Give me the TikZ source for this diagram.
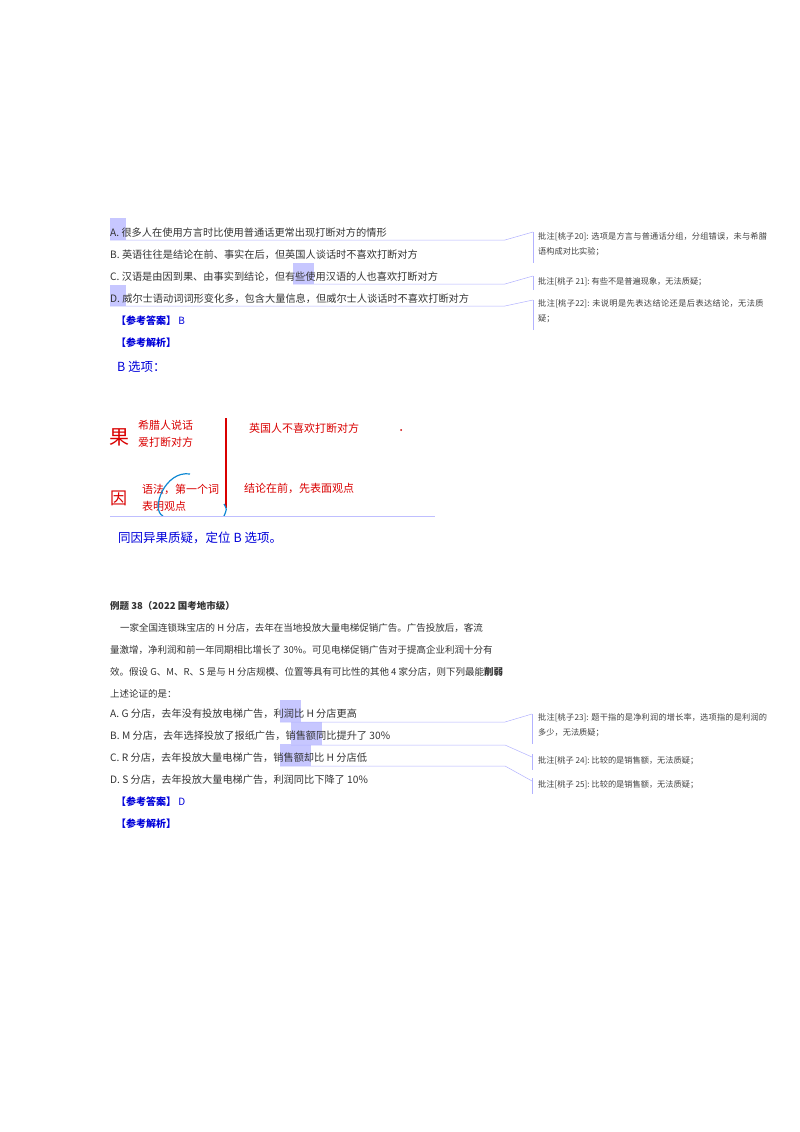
\documentclass[tikz,border=0pt]{standalone}
\usepackage{fontspec}
\setmainfont{Noto Sans CJK SC}
\XeTeXlinebreaklocale "zh"
\XeTeXlinebreakskip=0pt plus 1pt
\begin{document}
\begin{tikzpicture}[x=1pt,y=-1pt,
 t/.style={anchor=west,inner sep=0pt,font=\fontsize{9.5}{11}\selectfont,text=black!80},
 op/.style={anchor=west,inner sep=0pt,font=\fontsize{10.2}{11}\selectfont,text=black!80},
 bl/.style={anchor=west,inner sep=0pt,font=\fontsize{10}{12}\selectfont\bfseries,text=blue!85!black},
 big/.style={anchor=west,inner sep=0pt,font=\fontsize{12.5}{14}\selectfont,text=blue!85!black},
 cmt/.style={anchor=west,inner sep=0pt,font=\fontsize{8.2}{15}\selectfont,text=black!75},
 cmtw/.style={cmt,align=left,text width=232pt,anchor=north west},
 rd/.style={anchor=west,inner sep=0pt,font=\fontsize{11}{13}\selectfont,text=red!85!black},
 hl/.style={fill=blue!22,draw=none},
 ld/.style={draw=blue!30,line width=0.5pt}]
\useasboundingbox (0,0) rectangle (800,1132);
% highlights
\fill[hl] (110,218) rectangle (126,240);
\fill[hl] (293,263) rectangle (314,284);
\fill[hl] (110,285) rectangle (126,306);
\fill[hl] (280,700) rectangle (301,722);
\fill[hl] (291,722) rectangle (322,745);
\fill[hl] (280,744) rectangle (311,766);
% leaders
\draw[ld] (110,240) -- (505,240) -- (533,232);
\draw[ld] (293,284) -- (505,284) -- (533,276);
\draw[ld] (110,306) -- (505,306) -- (533,300);
\draw[ld] (280,722) -- (505,722) -- (532,714);
\draw[ld] (291,745) -- (505,745) -- (532,757);
\draw[ld] (280,766) -- (505,766) -- (532,781);
% comment bars
\draw[ld] (533,232) -- (533,263);
\draw[ld] (533,276) -- (533,290);
\draw[ld] (533,300) -- (533,330);
\draw[ld] (532,714) -- (532,744);
\draw[ld] (532,754) -- (532,770);
\draw[ld] (532,778) -- (532,794);
% options 1
\node[op] (a1) at (110,233) {A.\ 很多人在使用方言时比使用普通话更常出现打断对方的情形};
\node[op] (b1) at (110,255) {B.\ 英语往往是结论在前、事实在后，但英国人谈话时不喜欢打断对方};
\node[op] (c1) at (110,277) {C.\ 汉语是由因到果、由事实到结论，但有些使用汉语的人也喜欢打断对方};
\node[op] (d1) at (110,299) {D.\ 威尔士语动词词形变化多，包含大量信息，但威尔士人谈话时不喜欢打断对方};
\node[bl] (ans1) at (116,321) {【参考答案】\ \mdseries B};
\node[bl] (ex1) at (116,343) {【参考解析】};
\node[big] (bx) at (117,367) {B 选项：};
% comments 1
\node[cmtw] (c20) at (538,232) {批注[桃子20]:\ 选项是方言与普通话分组，分组错误，未与希腊语构成对比实验；};
\node[cmt] (c21) at (538,282) {批注[桃子 21]:\ 有些不是普遍现象，无法质疑；};
\node[cmtw] (c22) at (538,299) {批注[桃子22]:\ 未说明是先表达结论还是后表达结论，无法质疑；};
% handwritten image
\node[rd,font=\fontsize{20}{22}\selectfont] (guo1) at (109,437) {果};
\node[rd] (x1) at (138,425) {希腊人说话};
\node[rd] (x2) at (138,442) {爱打断对方};
\draw[red!85!black,line width=1.2pt] (226,418) -- (226,508);
\node[rd] (x3) at (249,428) {英国人不喜欢打断对方};
\fill[red!80!black] (401,430) circle (1pt);
\node[rd,font=\fontsize{17}{19}\selectfont] (guo2) at (110,498) {因};
\node[rd] (x4) at (142,489) {语法，第一个词};
\node[rd] (x5) at (142,506) {表明观点};
\node[rd] (x6) at (244,488) {结论在前，先表面观点};
\draw[cyan!70!blue,line width=1.2pt] (190,474) .. controls (165,470) and (150,510) .. (163,516);
\draw[cyan!70!blue,line width=1.2pt] (224,504) .. controls (227,509) .. (224,516);
\draw[blue!25,line width=0.5pt] (110,516) -- (435,516);
\node[big] (tq) at (118,538) {同因异果质疑，定位 B 选项。};
% example 38
\node[t,font=\fontsize{9.5}{11}\selectfont\bfseries] (ex38) at (110,606) {例题 38（2022 国考地市级）};
\node[t] (p1) at (120,628) {一家全国连锁珠宝店的 H 分店，去年在当地投放大量电梯促销广告。广告投放后，客流};
\node[t] (p2) at (110,650) {量激增，净利润和前一年同期相比增长了 30\%。可见电梯促销广告对于提高企业利润十分有};
\node[t] (p3) at (110,672) {效。假设 G、M、R、S 是与 H 分店规模、位置等具有可比性的其他 4 家分店，则下列最能\textbf{削弱}};
\node[t] (p4) at (110,694) {上述论证的是：};
\node[op] (a2) at (110,714) {A.\ G 分店，去年没有投放电梯广告，利润比 H 分店更高};
\node[op] (b2) at (110,736) {B.\ M 分店，去年选择投放了报纸广告，销售额同比提升了 30\%};
\node[op] (c2) at (110,758) {C.\ R 分店，去年投放大量电梯广告，销售额却比 H 分店低};
\node[op] (d2) at (110,780) {D.\ S 分店，去年投放大量电梯广告，利润同比下降了 10\%};
\node[bl] (ans2) at (116,802) {【参考答案】\ \mdseries D};
\node[bl] (ex2) at (116,824) {【参考解析】};
\node[cmtw] (c23) at (538,713) {批注[桃子23]:\ 题干指的是净利润的增长率，选项指的是利润的多少，无法质疑；};
\node[cmt] (c24) at (538,761) {批注[桃子 24]:\ 比较的是销售额，无法质疑；};
\node[cmt] (c25) at (538,785) {批注[桃子 25]:\ 比较的是销售额，无法质疑；};
\end{tikzpicture}
\end{document}
